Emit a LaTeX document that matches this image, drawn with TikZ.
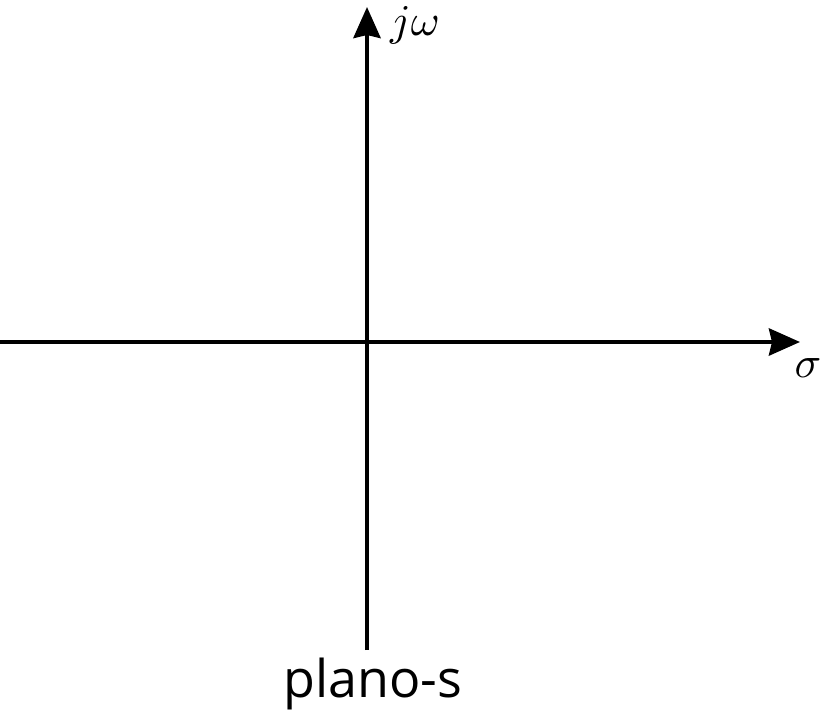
\documentclass[tikz,border=0pt]{standalone}
\usepackage{fontspec}
\setmainfont{Open Sans}
\usepackage{amsmath,amssymb}
\usetikzlibrary{arrows.meta}

\begin{document}
\begin{tikzpicture}[x=1pt,y=-1pt]
\useasboundingbox (0,0) rectangle (822,718);

\coordinate (W) at (0,342);
\coordinate (E) at (800,342);
\coordinate (S) at (367,650);
\coordinate (N) at (367,7);

\path[-{Stealth[length=31pt,width=27pt,inset=3pt]}, line width=4.5pt] (W) edge [] node[]{} (E);
\path[-{Stealth[length=31pt,width=27pt,inset=3pt]}, line width=4.5pt] (S) edge [] node[]{} (N);

\node[scale=4.4,inner sep=0pt] (jw) at (415,25) {$j\omega$};
\node[scale=4.4,inner sep=0pt] (sg) at (808,368) {$\sigma$};
\node[anchor=base] (pl) at (373,697) {\fontsize{52}{56}\selectfont plano-s};
\end{tikzpicture}
\end{document}
